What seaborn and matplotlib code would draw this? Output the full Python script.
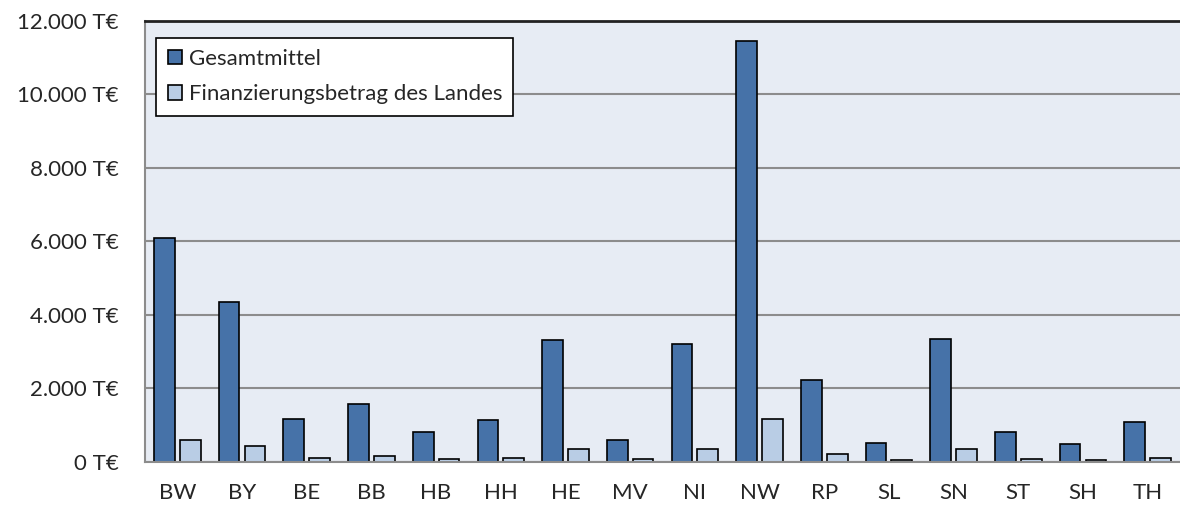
import matplotlib
matplotlib.use("Agg")
import matplotlib.pyplot as plt
import matplotlib.ticker as mticker
import seaborn as sns
import pandas as pd

laender = ['BW', 'BY', 'BE', 'BB', 'HB', 'HH', 'HE', 'MV',
           'NI', 'NW', 'RP', 'SL', 'SN', 'ST', 'SH', 'TH']
gesamtmittel = [6100, 4350, 1170, 1570, 820, 1130, 3310, 600,
                3220, 11450, 2220, 520, 3350, 820, 480, 1090]
landesanteil = [600, 430, 120, 170, 80, 120, 340, 80,
                340, 1170, 210, 50, 340, 80, 50, 120]
series_names = ['Gesamtmittel', 'Finanzierungsbetrag des Landes']

df = pd.concat([
    pd.DataFrame({'land': laender, 'wert': gesamtmittel, 'art': series_names[0]}),
    pd.DataFrame({'land': laender, 'wert': landesanteil, 'art': series_names[1]}),
])

sns.set_style("white")
plt.rcParams['font.family'] = ['Lato', 'DejaVu Sans']

fig = plt.figure(figsize=(11.8, 5.08), dpi=100)
ax = fig.add_axes([0.1229, 0.0906, 0.8771, 0.8681])

ax = sns.barplot(
    data=df, x='land', y='wert', hue='art',
    order=laender, hue_order=series_names,
    palette=['#4672A8', '#B9CDE5'], saturation=1,
    width=0.8, gap=0.2,
    edgecolor='black', linewidth=1.2,
    ax=ax,
)

ax.set_facecolor('#E7ECF4')
ax.set_xlim(-0.5, 15.5)
ax.set_ylim(0, 12000)
ax.yaxis.set_major_locator(mticker.MultipleLocator(2000))
ax.yaxis.set_major_formatter(
    mticker.FuncFormatter(lambda v, p: f"{v:,.0f}".replace(',', '.') + " T€"))
ax.grid(axis='y', color='#8C8C8C', linewidth=1.5)
ax.set_axisbelow(True)
ax.set_xlabel('')
ax.set_ylabel('')
ax.tick_params(axis='both', length=0, labelsize=16)
ax.tick_params(axis='y', pad=19)
ax.tick_params(axis='x', pad=15)

for side in ['left', 'bottom']:
    ax.spines[side].set_color('#8C8C8C')
    ax.spines[side].set_linewidth(1.5)
ax.spines['top'].set_color('#222222')
ax.spines['top'].set_linewidth(2)
ax.spines['right'].set_visible(False)

leg = ax.legend(loc='upper left', bbox_to_anchor=(0.011, 0.962),
                fontsize=16, frameon=True, fancybox=False,
                handlelength=0.65, handleheight=0.65, handletextpad=0.3,
                borderpad=0.5, labelspacing=0.7, borderaxespad=0)
leg.get_frame().set_edgecolor('black')
leg.get_frame().set_linewidth(1.2)
leg.get_frame().set_facecolor('white')
leg.get_frame().set_alpha(1)

fig.savefig('out.png', dpi=100)
